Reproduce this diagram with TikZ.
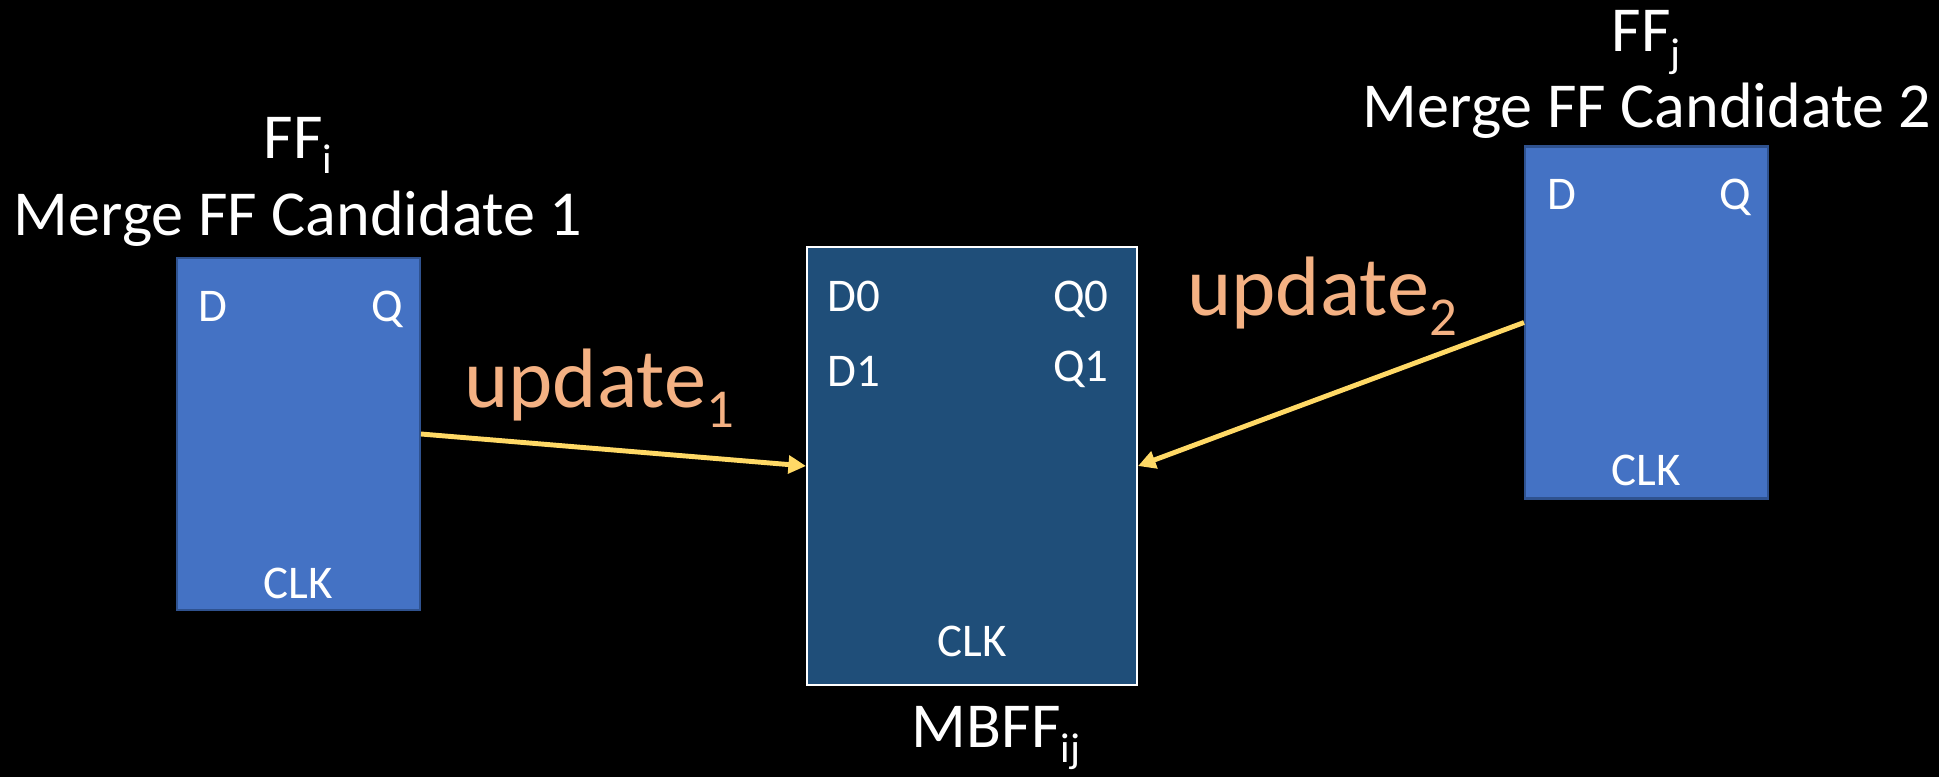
\documentclass[tikz,border=0pt]{standalone}
\usepackage{fontspec}
\setmainfont{Carlito}
\usetikzlibrary{arrows.meta}
\definecolor{ffblue}{HTML}{4472C4}
\definecolor{ffedge}{HTML}{2F528F}
\definecolor{mbblue}{HTML}{1F4E79}
\definecolor{updorange}{HTML}{F4B183}
\definecolor{updyellow}{HTML}{FFD966}
\newcommand{\ffsub}[1]{\raisebox{-0.24em}{\scalebox{0.65}{#1}}}
\tikzset{
  ffbox/.style={draw=ffedge, line width=1.2pt, fill=ffblue,
    minimum width=4.86cm, minimum height=7.04cm, inner sep=0pt},
  mbffbox/.style={draw=white, line width=1.2pt, fill=mbblue,
    minimum width=6.6cm, minimum height=8.76cm, inner sep=0pt},
  pinlabel/.style={text=white, inner sep=0pt, font=\fontsize{26.7}{30}\selectfont},
  titlelabel/.style={text=white, inner sep=0pt, anchor=base, font=\fontsize{36.5}{42}\selectfont},
  updlabel/.style={text=updorange, inner sep=0pt, anchor=base west, font=\fontsize{48}{54}\selectfont},
  updarrow/.style={draw=updyellow, line width=2.8pt, -{Triangle[length=10pt,width=10pt]}}
}

\begin{document}
\begin{tikzpicture}[x=0.02cm, y=-0.02cm]
  \path[use as bounding box, fill=black] (0,0) rectangle (1939,777);

  % flip-flops
  \node[ffbox] (ffi) at (298.5,434) {};
  \node[mbffbox] (mbff) at (972,466) {};
  \node[ffbox] (ffj) at (1646.5,322.5) {};

  % pins
  \node[pinlabel, anchor=base west] (ffiD) at ([shift={(22,65)}]ffi.north west) {D};
  \node[pinlabel, anchor=base east] (ffiQ) at ([shift={(-18,65)}]ffi.north east) {Q};
  \node[pinlabel, anchor=base] (ffiC) at ([shift={(0,-13)}]ffi.south) {CLK};
  \node[pinlabel, anchor=base west] (ffjD) at ([shift={(23,64)}]ffj.north west) {D};
  \node[pinlabel, anchor=base east] (ffjQ) at ([shift={(-18,64)}]ffj.north east) {Q};
  \node[pinlabel, anchor=base] (ffjC) at ([shift={(0,-14)}]ffj.south) {CLK};
  \node[pinlabel, anchor=base west] (mbD0) at ([shift={(21,66)}]mbff.north west) {D0};
  \node[pinlabel, anchor=base west] (mbD1) at ([shift={(21,141)}]mbff.north west) {D1};
  \node[pinlabel, anchor=base east] (mbQ0) at ([shift={(-29,66)}]mbff.north east) {Q0};
  \node[pinlabel, anchor=base east] (mbQ1) at ([shift={(-29,136)}]mbff.north east) {Q1};
  \node[pinlabel, anchor=base] (mbC) at ([shift={(0,-30)}]mbff.south) {CLK};

  % titles
  \node[titlelabel] (ffiname) at (298,158) {FF\ffsub{i}};
  \node[titlelabel] (ffitext) at (298,235) {Merge FF Candidate 1};
  \node[titlelabel] (ffjname) at (1646,52) {FF\ffsub{j}};
  \node[titlelabel] (ffjtext) at (1647,128) {Merge FF Candidate 2};
  \node[titlelabel] (mbname) at (996,747) {MBFF\ffsub{ij}};

  % updates
  \node[updlabel] (upd1) at (464,407) {update\ffsub{1}};
  \node[updlabel] (upd2) at (1187,315) {update\ffsub{2}};
  \draw[updarrow] (ffi.east) -- (mbff.west);
  \draw[updarrow] (ffj.west) -- (mbff.east);
\end{tikzpicture}
\end{document}
